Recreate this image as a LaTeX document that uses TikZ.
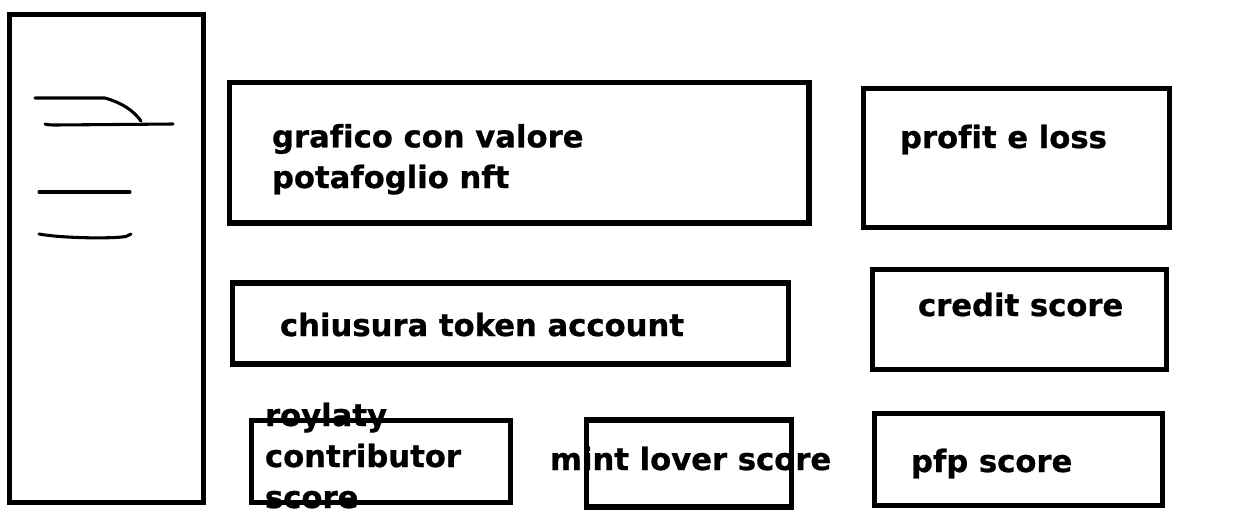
\documentclass[tikz,border=0pt]{standalone}
\usepackage{fontspec}
\setmainfont{DejaVu Sans}[Ligatures=NoCommon,BoldFeatures={FakeBold=0.8}]
\begin{document}
\begin{tikzpicture}[x=0.75pt,y=-0.75pt,
  box/.style={draw=black,line width=3.8pt,inner sep=0pt,outer sep=0pt},
  lbl/.style={inner sep=0pt,outer sep=0pt,anchor=base west,align=left,
    font=\fontsize{23}{30.5}\selectfont\bfseries,text=black},
  scrib/.style={draw=black,line width=2.3pt,line cap=round,line join=round}]
\useasboundingbox[fill=white] (0,0) rectangle (1249,529);
% sidebar
\draw[box] (9.5,14.5) rectangle (203.5,502.5);
\coordinate (s1a) at (35,98); \coordinate (s1b) at (105,98); \coordinate (s1c) at (141,121);
\coordinate (s2a) at (45,124); \coordinate (s2b) at (173,124);
\coordinate (s3a) at (39,192); \coordinate (s3b) at (130,192);
\coordinate (s4a) at (39,234); \coordinate (s4b) at (131,234);
\draw[scrib] (s1a) -- (s1b) .. controls (122,103) and (133,110) .. (s1c);
\draw[scrib] (s2a) .. controls (48,125) and (52,125) .. (56,125) -- (s2b);
\draw[scrib] (s3a) -- (s3b);
\draw[scrib] (s4a) .. controls (60,238) and (110,239) .. (126,236.5) -- (s4b);
% boxes
\node[box,minimum width=579.5*0.75pt,minimum height=140.5*0.75pt] (grafico) at (519.25,152.75) {};
\node[box,minimum width=306*0.75pt,minimum height=139*0.75pt] (profit) at (1016.5,158) {};
\node[box,minimum width=556*0.75pt,minimum height=81*0.75pt] (chiusura) at (510.5,323.5) {};
\node[box,minimum width=294*0.75pt,minimum height=100*0.75pt] (credit) at (1019.5,319.5) {};
\node[box,minimum width=259*0.75pt,minimum height=82*0.75pt] (roylaty) at (381,461.5) {};
\node[box,minimum width=205*0.75pt,minimum height=87*0.75pt] (mint) at (689,463.5) {};
\node[box,minimum width=288*0.75pt,minimum height=92*0.75pt] (pfp) at (1018.5,459.5) {};
% labels
\node[lbl] (tgrafico) at (272,188) {grafico con valore\\potafoglio nft};
\node[lbl] (tprofit) at (900,148) {profit e loss};
\node[lbl] (tchiusura) at (280,336) {chiusura token account};
\node[lbl] (tcredit) at (918,316) {credit score};
\node[lbl,font=\fontsize{23}{30.75}\selectfont\bfseries] (troylaty) at (265,508) {roylaty\\contributor\\score};
\node[lbl] (tmint) at (550,470) {mint lover score};
\node[lbl] (tpfp) at (911,472) {pfp score};
\end{tikzpicture}
\end{document}
